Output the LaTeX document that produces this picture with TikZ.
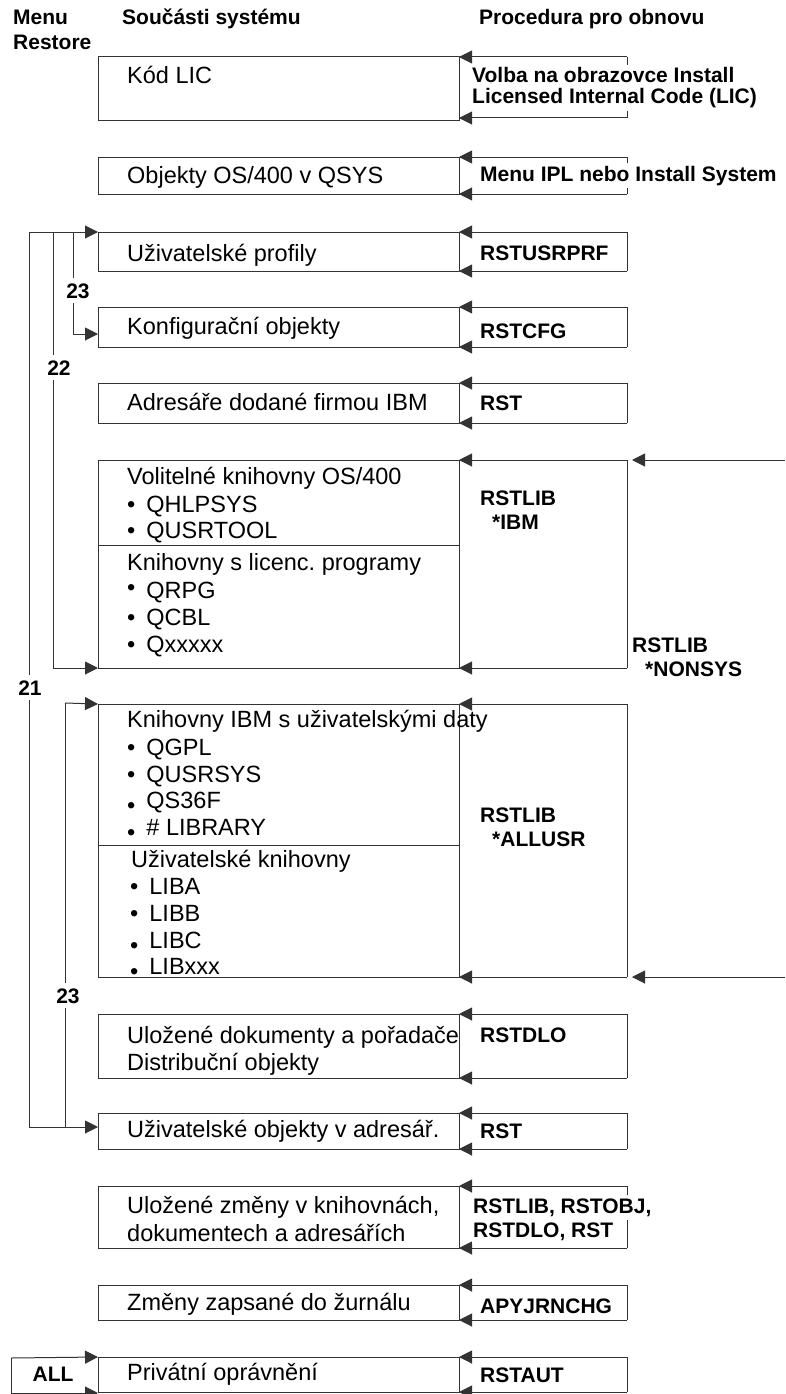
\documentclass[tikz,border=0pt]{standalone}
\usepackage{fontspec}
\setmainfont{Liberation Sans}
\usetikzlibrary{arrows.meta}
\frenchspacing
\newcommand\mytxt{\fontsize{23.5}{27}\selectfont}
\newcommand\mybold{\fontsize{21}{24}\selectfont\bfseries}
\newcommand\bul{\textbullet\hspace{11pt}}
\newcommand\bullow{\raisebox{-5pt}{\textbullet}\hspace{11pt}}
\newcommand\bulhigh{\raisebox{3pt}{\textbullet}\hspace{11pt}}
\begin{document}
\begin{tikzpicture}[x=1pt,y=-1pt,
  ln/.style={draw=black!80,line width=1pt},
  arrowline/.style={ln,-{Triangle[length=13pt,width=13pt]}},
  box/.style={ln,rectangle,inner sep=0,outer sep=0,minimum width=361pt,anchor=north west},
  proc/.style={rectangle,inner sep=0,outer sep=0,minimum width=168pt,anchor=north west},
  txt/.style={anchor=base west,inner sep=0,font=\mytxt,text=black},
  btxt/.style={anchor=base west,inner sep=0,font=\mybold,text=black},
  wtxt/.style={anchor=base west,inner xsep=1pt,inner ysep=2pt,font=\mybold,fill=white,text height=16pt,text depth=5pt},
  lbl/.style={anchor=base,inner xsep=2pt,inner ysep=5pt,font=\mybold,fill=white,text height=15pt,text depth=0pt}]
\useasboundingbox (0,0) rectangle (785,1394);

% headers
\node[btxt] (h1) at (13,25) {Menu};
\node[btxt] (h2) at (13,50) {Restore};
\node[btxt] (h3) at (122,25) {Součásti systému};
\node[btxt] (h4) at (479,25) {Procedura pro obnovu};

% component boxes
\node[box,minimum height=64pt]  (b1)  at (98,57) {};
\node[box,minimum height=37pt]  (b2)  at (98,157) {};
\node[box,minimum height=39pt]  (b3)  at (98,232) {};
\node[box,minimum height=40pt]  (b4)  at (98,307) {};
\node[box,minimum height=40pt]  (b5)  at (98,383) {};
\node[box,minimum height=208pt] (b6)  at (98,460) {};
\node[box,minimum height=273pt] (b7)  at (98,704) {};
\node[box,minimum height=64pt]  (b8)  at (98,1014) {};
\node[box,minimum height=36pt]  (b9)  at (98,1113) {};
\node[box,minimum height=62pt]  (b10) at (98,1186) {};
\node[box,minimum height=35pt]  (b11) at (98,1285) {};
\node[box,minimum height=35pt]  (b12) at (98,1357) {};
\draw[ln] (b6.west |- 0,545) -- (b6.east |- 0,545);
\draw[ln] (b7.west |- 0,845) -- (b7.east |- 0,845);

% procedure brackets
\node[proc,minimum height=61pt]  (p1)  at (459,57) {};
\node[proc,minimum height=37pt]  (p2)  at (459,157) {};
\node[proc,minimum height=39pt]  (p3)  at (459,232) {};
\node[proc,minimum height=40pt]  (p4)  at (459,307) {};
\node[proc,minimum height=40pt]  (p5)  at (459,383) {};
\node[proc,minimum height=208pt] (p6)  at (459,460) {};
\node[proc,minimum height=273pt] (p7)  at (459,704) {};
\node[proc,minimum height=64pt]  (p8)  at (459,1014) {};
\node[proc,minimum height=36pt]  (p9)  at (459,1113) {};
\node[proc,minimum height=62pt]  (p10) at (459,1186) {};
\node[proc,minimum height=35pt]  (p11) at (459,1285) {};
\node[proc,minimum height=35pt]  (p12) at (459,1357) {};
\foreach \i in {1,...,12}{
  \draw[arrowline] (p\i.north east) -- (b\i.north east);
  \draw[ln] (p\i.north east) -- (p\i.south east);
  \draw[arrowline] (p\i.south east) -- (p\i.south west);
}

% outer arrows
\coordinate (o1) at (785,460);
\coordinate (o2) at (785,977);
\draw[arrowline] (o1) -- ([xshift=5pt]p6.north east);
\draw[arrowline] (o2) -- ([xshift=5pt]p7.south east);

% left loops
\coordinate (l21top) at (29,232);
\coordinate (l22top) at (53,232);
\coordinate (l23top) at (73,232);
\coordinate (l21bot) at (29,1127);
\coordinate (l23btop) at (65,703);
\draw[arrowline] (l21top) -- (b3.north west);
\draw[ln] (l21top) -- (l21bot);
\draw[arrowline] (l21bot) -- (b9.west |- l21bot);
\draw[arrowline] (l22top) |- (b6.south west);
\draw[arrowline] (l23top) |- ([yshift=-7pt]b4.west);
\draw[arrowline] (l23btop) -- (b7.north west);
\draw[ln] (l23btop) -- (l23btop |- l21bot);

\node[lbl] (n23a) at (78,298) {23};
\node[lbl] (n22) at (59,375) {22};
\node[lbl] (n21) at (30,695) {21};
\node[lbl] (n23b) at (68,1003) {23};

% ALL
\coordinate (a1) at (11,1358);
\coordinate (a2) at (11,1393);
\draw[arrowline] (a1) -- (b12.north west);
\draw[ln] (a1) -- (a2);
\draw[arrowline] (a2) -- (b12.west |- a2);
\node[btxt,anchor=base] (all) at (53,1381) {ALL};

% component texts
\node[txt] (t1) at (127,84) {Kód LIC};
\node[txt] (t2) at (127,183) {Objekty OS/400 v QSYS};
\node[txt] (t3) at (127,261) {Uživatelské profily};
\node[txt] (t4) at (127,334) {Konfigurační objekty};
\node[txt] (t5) at (127,410) {Adresáře dodané firmou IBM};
\node[txt] (t6a) at (127,484) {Volitelné knihovny OS/400};
\node[txt] (t6b) at (127,512) {\bul QHLPSYS};
\node[txt] (t6c) at (127,538) {\bul QUSRTOOL};
\node[txt] (t6d) at (127,570) {Knihovny s licenc. programy};
\node[txt] (t6e) at (127,598) {\bulhigh QRPG};
\node[txt] (t6f) at (127,625) {\bul QCBL};
\node[txt] (t6g) at (127,652) {\bul Qxxxxx};
\node[txt] (t7a) at (127,727) {Knihovny IBM s uživatelskými daty};
\node[txt] (t7b) at (127,755) {\bul QGPL};
\node[txt] (t7c) at (127,782) {\bul QUSRSYS};
\node[txt] (t7d) at (127,808) {\bullow QS36F};
\node[txt] (t7e) at (127,835) {\bullow \# LIBRARY};
\node[txt] (t7f) at (131,867) {Uživatelské knihovny};
\node[txt] (t7g) at (130,894) {\bul LIBA};
\node[txt] (t7h) at (130,921) {\bul LIBB};
\node[txt] (t7i) at (130,948) {\bullow LIBC};
\node[txt] (t7j) at (130,974) {\bullow LIBxxx};
\node[txt] (t8a) at (127,1043) {Uložené dokumenty a pořadače};
\node[txt] (t8b) at (127,1070) {Distribuční objekty};
\node[txt] (t9) at (127,1137) {Uživatelské objekty v adresář.};
\node[txt] (t10a) at (127,1213) {Uložené změny v knihovnách,};
\node[txt] (t10b) at (127,1241) {dokumentech a adresářích};
\node[txt] (t11) at (127,1310) {Změny zapsané do žurnálu};
\node[txt] (t12) at (127,1380) {Privátní oprávnění};

% procedure texts
\node[wtxt] (r1a) at (471,83) {Volba na obrazovce Install};
\node[wtxt] (r1b) at (471,104) {Licensed Internal Code (LIC)};
\node[wtxt] (r2) at (479,181) {Menu IPL nebo Install System};
\node[btxt] (r3) at (480,260) {RSTUSRPRF};
\node[btxt] (r4) at (480,338) {RSTCFG};
\node[btxt] (r5) at (480,410) {RST};
\node[btxt] (r6a) at (480,505) {RSTLIB};
\node[btxt] (r6b) at (492,529) {*IBM};
\node[btxt] (r6c) at (632,652) {RSTLIB};
\node[btxt] (r6d) at (645,676) {*NONSYS};
\node[btxt] (r7a) at (480,822) {RSTLIB};
\node[btxt] (r7b) at (492,846) {*ALLUSR};
\node[btxt] (r8) at (480,1042) {RSTDLO};
\node[btxt] (r9) at (480,1138) {RST};
\node[wtxt] (r10a) at (472,1213) {RSTLIB, RSTOBJ,};
\node[wtxt] (r10b) at (472,1237) {RSTDLO, RST};
\node[btxt] (r11) at (480,1313) {APYJRNCHG};
\node[btxt] (r12) at (480,1382) {RSTAUT};
\end{tikzpicture}
\end{document}
